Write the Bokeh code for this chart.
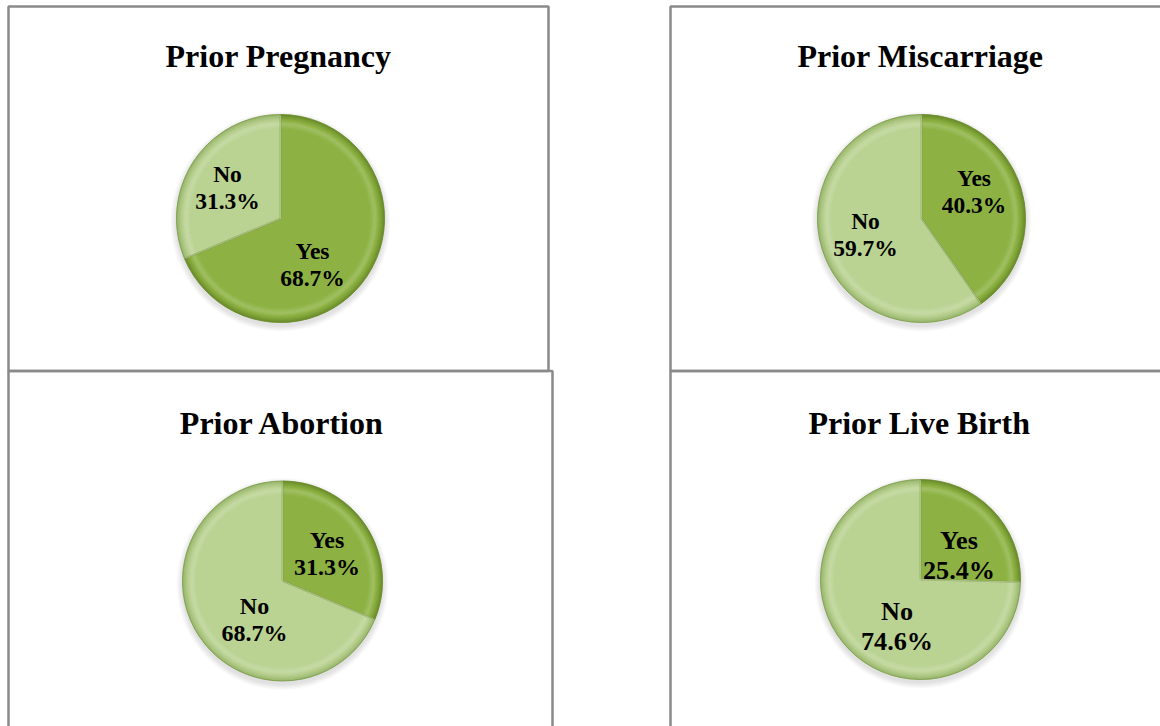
import numpy as np
from bokeh.plotting import figure
from bokeh.models import Range1d, ColumnDataSource
from bokeh.core.properties import value
from bokeh.embed import file_html
from bokeh.resources import INLINE

# ---------------- data ----------------
titles = ["Prior Pregnancy", "Prior Miscarriage", "Prior Abortion", "Prior Live Birth"]
categories = ["Yes", "No"]
yes_pct = [68.7, 40.3, 31.3, 25.4]
no_pct = [31.3, 59.7, 68.7, 74.6]

# ---------------- layout (page pixel coordinates, y downwards) ----------------
W, H = 1160, 726
centers_img = [(280, 218), (921, 218), (282, 580.5), (920, 579)]
radii = [104, 104, 100, 100]
title_pos_img = [(278, 55), (920, 55), (282, 422), (919, 422)]
# per panel, per category: (dx from centre, dy of first baseline from centre, downwards)
label_offsets = [
    {"Yes": (32, 32), "No": (-53, -45)},
    {"Yes": (52.5, -41), "No": (-56, 2)},
    {"Yes": (44.5, -41.5), "No": (-28, 24.5)},
    {"Yes": (38.5, -39), "No": (-23.5, 32)},
]
label_sizes = [23.5, 23.5, 24, 26.2]
line_gaps = [27, 27, 27.5, 29.5]
# panel boxes: left, right, top, bottom (page px)
panel_boxes = [(8, 548, 6, 370.5), (670, 1175, 6, 370.5),
               (8, 552, 370.5, 740), (670, 1175, 370.5, 740)]

slice_colors = {"Yes": "#8db243", "No": "#bad292"}
slice_dark = {"Yes": "#5c7a20", "No": "#88a85a"}


def Y(y_img):
    return H - y_img


def mix(c1, c2, t):
    a = [int(c1[i:i + 2], 16) for i in (1, 3, 5)]
    b = [int(c2[i:i + 2], 16) for i in (1, 3, 5)]
    m = [round(a[k] + (b[k] - a[k]) * t) for k in range(3)]
    return "#%02x%02x%02x" % tuple(m)


p = figure(width=W, height=H, x_range=Range1d(0, W), y_range=Range1d(0, H),
           output_backend="svg", toolbar_location=None, min_border=0,
           x_axis_type=None, y_axis_type=None)
p.grid.visible = False
p.outline_line_color = None
p.background_fill_color = "white"
p.border_fill_color = "white"

# panel borders
p.quad(left=[b[0] for b in panel_boxes], right=[b[1] for b in panel_boxes],
       top=[Y(b[2]) for b in panel_boxes], bottom=[Y(b[3]) for b in panel_boxes],
       fill_color=None, line_color="#8a8a8a", line_width=2.5)

title_src = ColumnDataSource(dict(
    x=[t[0] for t in title_pos_img], y=[Y(t[1]) for t in title_pos_img], text=titles))
p.text(x="x", y="y", text="text", source=title_src, text_align="center",
       text_baseline="alphabetic", text_font=value("Liberation Serif"),
       text_font_style="bold", text_font_size="32px", text_color="black")

for i in range(4):
    cx, cy_img = centers_img[i]
    cy = Y(cy_img)
    r = radii[i]
    vals = [yes_pct[i], no_pct[i]]
    fr = np.array(vals) / sum(vals)
    cum = np.concatenate([[0], np.cumsum(fr)])
    starts = np.pi / 2 - 2 * np.pi * cum[:-1]
    ends = np.pi / 2 - 2 * np.pi * cum[1:]

    # soft shadow
    for k in range(6):
        p.circle(x=[cx], y=[cy - 3], radius=r + 1 + k, fill_color="black",
                 fill_alpha=0.02, line_color=None)

    # base slices
    src = ColumnDataSource(dict(x=[cx, cx], y=[cy, cy], start=starts, end=ends,
                                color=[slice_colors[c] for c in categories]))
    p.wedge(x="x", y="y", radius=r, start_angle="start", end_angle="end",
            direction="clock", fill_color="color", line_color=None, source=src)

    # bevel: light band then darkening towards the rim
    N = 12
    for k in range(N):
        u = (k + 0.5) / N
        if u < 0.35:
            t = -0.18 * (u / 0.35)
        else:
            t = -0.18 + 0.9 * ((u - 0.35) / 0.65) ** 1.6
        rin = r * (0.86 + 0.14 * k / N)
        rout = r * (0.86 + 0.14 * (k + 1) / N)
        cols = []
        for c in categories:
            if t < 0:
                cols.append(mix(slice_colors[c], "#ffffff", -t))
            else:
                cols.append(mix(slice_colors[c], slice_dark[c], t))
        ring = ColumnDataSource(dict(x=[cx, cx], y=[cy, cy], start=starts, end=ends, color=cols))
        p.annular_wedge(x="x", y="y", inner_radius=rin, outer_radius=rout,
                        start_angle="start", end_angle="end", direction="clock",
                        fill_color="color", line_color="color", line_width=0.6, source=ring)

    # slice boundaries: dark edge and light highlight
    bx = cx + r * 0.985 * np.cos(starts)
    by = cy + r * 0.985 * np.sin(starts)
    p.segment(x0=[cx] * 2, y0=[cy] * 2, x1=bx, y1=by, line_color="#6f8f35",
              line_width=1.6, line_alpha=0.7)
    p.segment(x0=[cx] * 2, y0=[cy] * 2, x1=bx, y1=by, line_color="white",
              line_width=1.0, line_alpha=0.35)
    # outer rim
    p.circle(x=[cx], y=[cy], radius=r, fill_color=None, line_color="#6a8a30",
             line_alpha=0.5, line_width=1.0)

    # labels
    lx, ly1, ly2, t1, t2 = [], [], [], [], []
    for c, v in zip(categories, vals):
        dx, dy = label_offsets[i][c]
        lx.append(cx + dx)
        ly1.append(Y(cy_img + dy))
        ly2.append(Y(cy_img + dy + line_gaps[i]))
        t1.append(c)
        t2.append("%.1f%%" % v)
    lsrc = ColumnDataSource(dict(x=lx + lx, y=ly1 + ly2, text=t1 + t2))
    p.text(x="x", y="y", text="text", source=lsrc, text_align="center",
           text_baseline="alphabetic", text_font=value("Liberation Serif"),
           text_font_style="bold", text_font_size="%spx" % label_sizes[i],
           text_color="black")

open("out.html", "w").write(file_html(p, INLINE))
